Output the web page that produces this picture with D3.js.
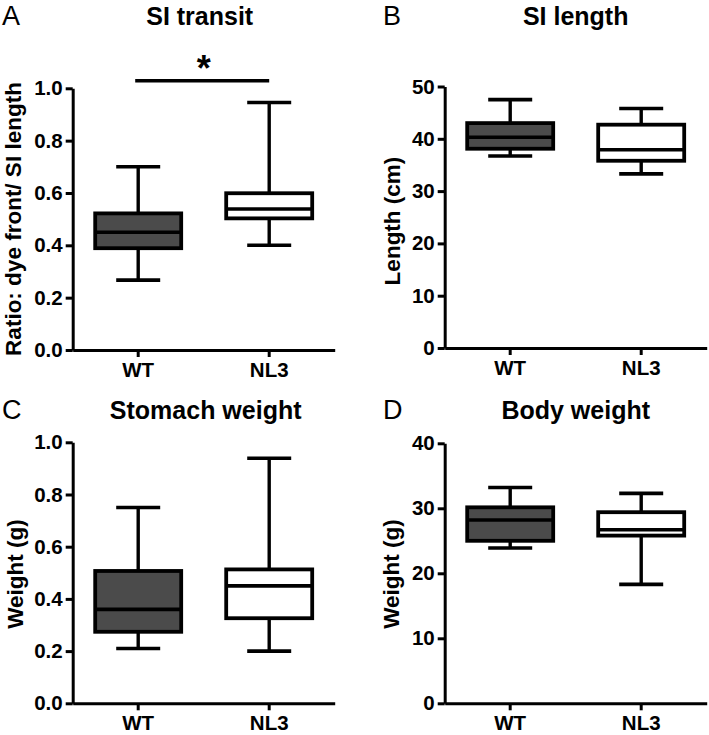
<!DOCTYPE html>
<html>
<head>
<meta charset="utf-8">
<script src="https://cdn.jsdelivr.net/npm/d3@7"></script>
<style>
  html, body { margin: 0; padding: 0; background: #fff; }
  svg { display: block; }
  text { font-family: "Liberation Sans", Arial, Helvetica, sans-serif; fill: #000; }
</style>
</head>
<body>
<svg id="chart" width="709" height="735"></svg>
<script>
// ---------- data: [min, q1, median, q3, max] ----------
const categories = ["WT", "NL3"];

const siTransitWT  = [0.267, 0.389, 0.450, 0.522, 0.700];
const siTransitNL3 = [0.400, 0.503, 0.539, 0.599, 0.946];

const siLengthWT  = [36.7, 38.1, 40.3, 43.0, 47.5];
const siLengthNL3 = [33.3, 35.8, 37.9, 42.7, 45.8];

const stomachWT  = [0.210, 0.274, 0.360, 0.507, 0.750];
const stomachNL3 = [0.200, 0.326, 0.450, 0.513, 0.939];

const bodyWT  = [23.9, 25.0, 28.2, 30.15, 33.2];
const bodyNL3 = [18.3, 25.8, 26.7, 29.4, 32.3];

const ticksFraction = [0, 0.2, 0.4, 0.6, 0.8, 1.0];
const ticksLength   = [0, 10, 20, 30, 40, 50];
const ticksBody     = [0, 10, 20, 30, 40];

const fills = { WT: "#4b4b4b", NL3: "#ffffff" };

// ---------- layout ----------
const panels = [
  { letter: "A", title: "SI transit", ylabel: "Ratio: dye front/ SI length",
    series: [siTransitWT, siTransitNL3], ticks: ticksFraction, fmt: d3.format(".1f"),
    ox: 72.7, top: 88.3, bottom: 350, letterX: 2, titleY: 25, titleDx: 127, ylabX: 20.5, ylabY: 219,
    sig: true },
  { letter: "B", title: "SI length", ylabel: "Length (cm)",
    series: [siLengthWT, siLengthNL3], ticks: ticksLength, fmt: d3.format("d"),
    ox: 444.7, top: 86.5, bottom: 348, letterX: 383, titleY: 25, titleDx: 131, ylabX: 400, ylabY: 221 },
  { letter: "C", title: "Stomach weight", ylabel: "Weight (g)",
    series: [stomachWT, stomachNL3], ticks: ticksFraction, fmt: d3.format(".1f"),
    ox: 72.7, top: 442.3, bottom: 703.3, letterX: 2, titleY: 419, titleDx: 133, ylabX: 23, ylabY: 574 },
  { letter: "D", title: "Body weight", ylabel: "Weight (g)",
    series: [bodyWT, bodyNL3], ticks: ticksBody, fmt: d3.format("d"),
    ox: 444.7, top: 443.3, bottom: 703.3, letterX: 383, titleY: 419, titleDx: 131, ylabX: 399, ylabY: 574 }
];

const svg = d3.select("#chart");
const axisLen = 262;
const boxW = 86, capW = 44;

panels.forEach(p => {
  const g = svg.append("g");
  const maxT = p.ticks[p.ticks.length - 1];
  const y = d3.scaleLinear().domain([0, maxT]).range([p.bottom, p.top]);
  const x = d3.scaleBand().domain(categories).range([p.ox, p.ox + axisLen]).padding(0);
  const cx = c => x(c) + x.bandwidth() / 2;

  // panel letter
  g.append("text").attr("x", p.letterX).attr("y", p.titleY)
    .attr("font-size", 27).attr("font-weight", "normal").text(p.letter);
  // title
  g.append("text").attr("x", p.ox + p.titleDx).attr("y", p.titleY)
    .attr("text-anchor", "middle").attr("font-size", 25).attr("font-weight", "bold").text(p.title);

  // y axis
  const ya = g.append("g").attr("transform", `translate(${p.ox},0)`)
    .call(d3.axisLeft(y).tickValues(p.ticks).tickFormat(p.fmt).tickSize(7).tickSizeOuter(0).tickPadding(3));
  ya.select(".domain").attr("stroke", "#000").attr("stroke-width", 3);
  ya.selectAll(".tick line").attr("stroke", "#000").attr("stroke-width", 3);
  ya.selectAll(".tick text").attr("font-size", 20.5).attr("font-weight", "bold")
    .attr("font-family", "Liberation Sans, Arial, sans-serif").attr("fill", "#000");

  // x axis
  const xa = g.append("g").attr("transform", `translate(0,${p.bottom})`)
    .call(d3.axisBottom(x).tickSize(7).tickSizeOuter(0).tickPadding(5));
  xa.select(".domain").attr("stroke", "#000").attr("stroke-width", 3);
  xa.selectAll(".tick line").attr("stroke", "#000").attr("stroke-width", 3);
  xa.selectAll(".tick text").attr("font-size", 20.5).attr("font-weight", "bold")
    .attr("font-family", "Liberation Sans, Arial, sans-serif").attr("fill", "#000");

  // y label
  g.append("text")
    .attr("transform", `translate(${p.ylabX},${p.ylabY}) rotate(-90)`)
    .attr("text-anchor", "middle").attr("font-size", 22.5).attr("font-weight", "bold")
    .text(p.ylabel);

  // boxes
  categories.forEach((c, i) => {
    const [mn, q1, md, q3, mx] = p.series[i];
    const xc = cx(c);
    const bg = g.append("g").attr("stroke", "#000").attr("stroke-linecap", "butt");
    // whiskers
    bg.append("line").attr("x1", xc).attr("x2", xc).attr("y1", y(q3)).attr("y2", y(mx)).attr("stroke-width", 3.4);
    bg.append("line").attr("x1", xc).attr("x2", xc).attr("y1", y(q1)).attr("y2", y(mn)).attr("stroke-width", 3.4);
    bg.append("line").attr("x1", xc - capW / 2).attr("x2", xc + capW / 2).attr("y1", y(mx)).attr("y2", y(mx)).attr("stroke-width", 3.6);
    bg.append("line").attr("x1", xc - capW / 2).attr("x2", xc + capW / 2).attr("y1", y(mn)).attr("y2", y(mn)).attr("stroke-width", 3.6);
    // box
    bg.append("rect").attr("x", xc - boxW / 2).attr("width", boxW)
      .attr("y", y(q3)).attr("height", y(q1) - y(q3))
      .attr("fill", fills[c]).attr("stroke-width", 3.8);
    // median
    bg.append("line").attr("x1", xc - boxW / 2).attr("x2", xc + boxW / 2)
      .attr("y1", y(md)).attr("y2", y(md)).attr("stroke-width", 3.6);
  });

  // significance
  if (p.sig) {
    const yb = 80.7;
    g.append("line").attr("x1", cx("WT") - 3).attr("x2", cx("NL3"))
      .attr("y1", yb).attr("y2", yb).attr("stroke", "#000").attr("stroke-width", 3.4);
    g.append("text").attr("x", (cx("WT") + cx("NL3")) / 2).attr("y", 81)
      .attr("text-anchor", "middle").attr("font-size", 36).attr("font-weight", "bold").text("*");
  }
});
</script>
</body>
</html>
